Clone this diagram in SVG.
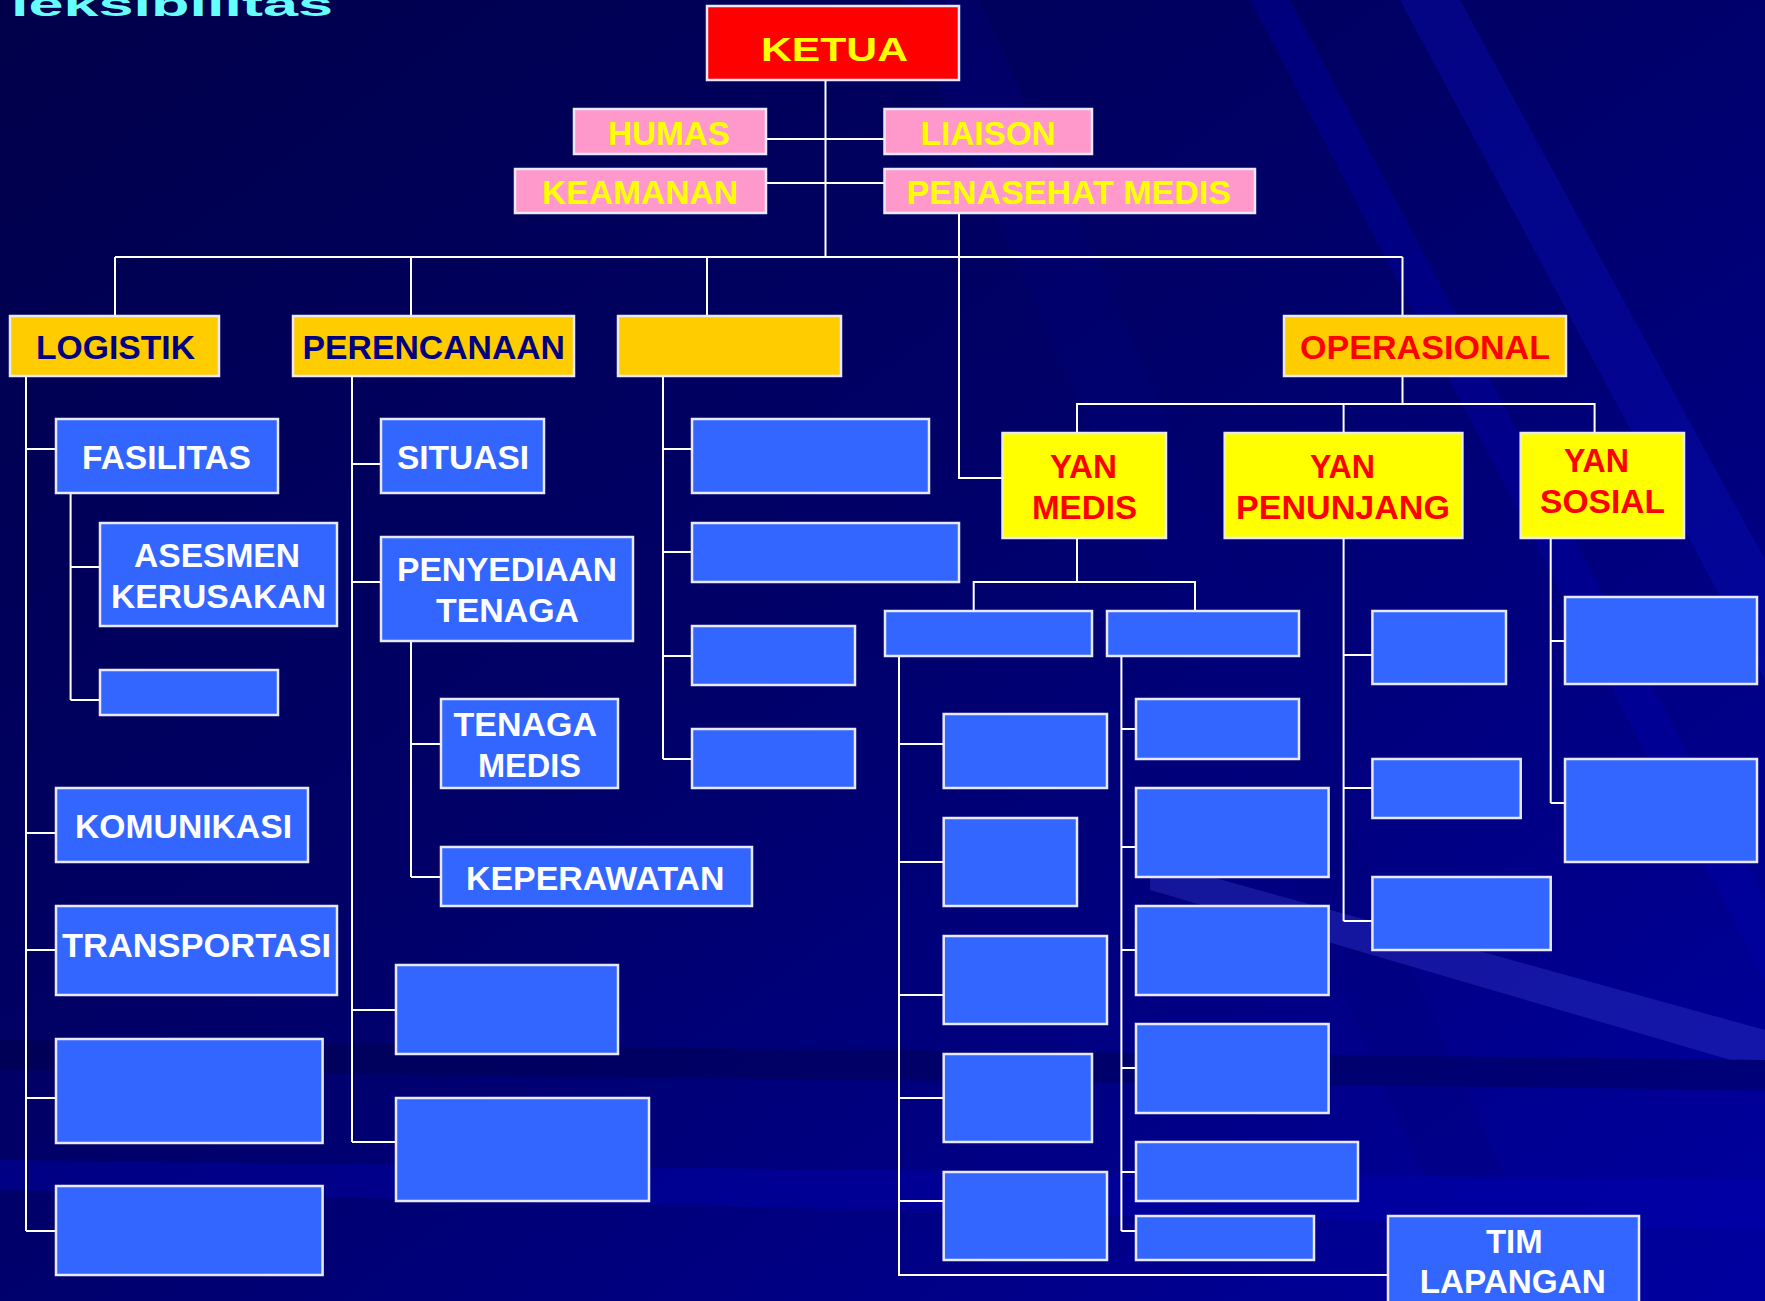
<svg xmlns="http://www.w3.org/2000/svg" width="1765" height="1301" viewBox="0 0 1765 1301">
<defs>
<linearGradient id="bg" x1="0" y1="0" x2="1" y2="1">
<stop offset="0" stop-color="#00004a"/>
<stop offset="0.45" stop-color="#000068"/>
<stop offset="1" stop-color="#0000a0"/>
</linearGradient>
<style>
.ln{fill:none;stroke:#ffffff;stroke-width:2}
.bx{stroke:#e8e8ff;stroke-width:2.5}
.blue{fill:#3366ff}
.gold{fill:#ffcc00}
.yel{fill:#ffff00}
.pink{fill:#ff99cc}
.red{fill:#ff0000}
text{font-family:"Liberation Sans",Arial,sans-serif;font-weight:bold;font-size:34px}
.tw{fill:#ffffff}
.ty{fill:#ffff00}
.tn{fill:#000080}
.tr{fill:#ff0000}
</style>
</defs>
<rect x="0" y="0" width="1765" height="1301" fill="url(#bg)"/>
<g opacity="0.35">
<polygon points="900,0 980,0 1560,1301 1480,1301" fill="#00007a"/>
<polygon points="1250,0 1290,0 1765,900 1765,980" fill="#0000b0"/>
<polygon points="1400,0 1460,0 1765,560 1765,680" fill="#0a10c0"/>
<polygon points="1150,860 1765,1030 1765,1070 1150,890" fill="#3a40d0"/>
<polygon points="0,1160 1765,1180 1765,1230 0,1190" fill="#0000b8"/>
<polygon points="0,1040 1765,1060 1765,1090 0,1070" fill="#000040"/>
</g>
<text x="11" y="16" font-size="62" fill="#66ffff" textLength="322" lengthAdjust="spacingAndGlyphs">leksibilitas</text>
<g id="connectors">
<path class="ln" d="M825.5 80V257M766 139H884.5M766 183H884.5M115 257H1402.5M115 257V316M411 257V316M707 257V316M1402.5 257V316"/>
<path class="ln" d="M959 213V478H1002.5"/>
<path class="ln" d="M26 376V1231M26 449H56M26 833H56M26 950H56M26 1098H56M26 1231H56"/>
<path class="ln" d="M70.6 493V700M70.6 567H100M70.6 700H100"/>
<path class="ln" d="M352 376V1142M352 464H381M352 582H381M352 1010H396M352 1142H396"/>
<path class="ln" d="M411 641V877M411 744H441M411 877H441"/>
<path class="ln" d="M663 376V759M663 449H692M663 552H692M663 656H692M663 759H692"/>
<path class="ln" d="M1402.5 376V404M1077 433V404H1594.6V433M1343.6 404V433"/>
<path class="ln" d="M1077 538V582M973.7 611V582H1195V611"/>
<path class="ln" d="M899 656V1275H1388M899 744H943.7M899 862H943.7M899 995H943.7M899 1098H943.7M899 1201H943.7"/>
<path class="ln" d="M1121.4 656V1231M1121.4 729H1136M1121.4 847H1136M1121.4 950H1136M1121.4 1068H1136M1121.4 1172H1136M1121.4 1231H1136"/>
<path class="ln" d="M1343.6 538V921M1343.6 655H1372.4M1343.6 788H1372.4M1343.6 921H1372.4"/>
<path class="ln" d="M1550.7 538V803M1550.7 641H1565M1550.7 803H1565"/>
</g>
<g id="ketua"><rect class="bx red" x="707" y="6" width="252" height="74"/><text class="ty" x="761" y="61" font-size="46" textLength="147" lengthAdjust="spacingAndGlyphs">KETUA</text></g>
<g id="humas"><rect class="bx pink" x="574" y="109" width="192" height="45"/><text class="ty" x="608" y="145" textLength="122" lengthAdjust="spacingAndGlyphs">HUMAS</text></g>
<g id="keamanan"><rect class="bx pink" x="515" y="169" width="251" height="44"/><text class="ty" x="542" y="204" textLength="196" lengthAdjust="spacingAndGlyphs">KEAMANAN</text></g>
<g id="liaison"><rect class="bx pink" x="884.5" y="109" width="207.5" height="45"/><text class="ty" x="920.6" y="145" textLength="135" lengthAdjust="spacingAndGlyphs">LIAISON</text></g>
<g id="penasehat-medis"><rect class="bx pink" x="884.5" y="169" width="370.5" height="44"/><text class="ty" x="906.5" y="204" textLength="324.5" lengthAdjust="spacingAndGlyphs">PENASEHAT MEDIS</text></g>
<g id="logistik"><rect class="bx gold" x="10" y="316" width="209" height="60"/><text class="tn" x="36" y="359" textLength="159" lengthAdjust="spacingAndGlyphs">LOGISTIK</text></g>
<g id="perencanaan"><rect class="bx gold" x="293" y="316" width="281" height="60"/><text class="tn" x="302.5" y="359" textLength="262.5" lengthAdjust="spacingAndGlyphs">PERENCANAAN</text></g>
<g id="blank-gold"><rect class="bx gold" x="618" y="316" width="223" height="60"/></g>
<g id="operasional"><rect class="bx gold" x="1284" y="316" width="282" height="60"/><text class="tr" x="1300" y="359" textLength="250" lengthAdjust="spacingAndGlyphs">OPERASIONAL</text></g>
<g id="fasilitas"><rect class="bx blue" x="56" y="419" width="222" height="74"/><text class="tw" x="82" y="469" textLength="169" lengthAdjust="spacingAndGlyphs">FASILITAS</text></g>
<g id="asesmen-kerusakan"><rect class="bx blue" x="100" y="523" width="237" height="103"/><text class="tw" x="134" y="567" textLength="166" lengthAdjust="spacingAndGlyphs">ASESMEN</text><text class="tw" x="111" y="608" textLength="215" lengthAdjust="spacingAndGlyphs">KERUSAKAN</text></g>
<g id="log-blank1"><rect class="bx blue" x="100" y="670" width="178" height="45"/></g>
<g id="komunikasi"><rect class="bx blue" x="56" y="788" width="252" height="74"/><text class="tw" x="75" y="838" textLength="217" lengthAdjust="spacingAndGlyphs">KOMUNIKASI</text></g>
<g id="transportasi"><rect class="bx blue" x="56" y="906" width="281" height="89"/><text class="tw" x="62" y="957" textLength="269" lengthAdjust="spacingAndGlyphs">TRANSPORTASI</text></g>
<g id="log-blank2"><rect class="bx blue" x="56" y="1039" width="266.6" height="104"/></g>
<g id="log-blank3"><rect class="bx blue" x="56" y="1186" width="266.6" height="89"/></g>
<g id="situasi"><rect class="bx blue" x="381" y="419" width="163" height="74"/><text class="tw" x="397" y="469" textLength="132" lengthAdjust="spacingAndGlyphs">SITUASI</text></g>
<g id="penyediaan-tenaga"><rect class="bx blue" x="381" y="537" width="252" height="104"/><text class="tw" x="397" y="581" textLength="220" lengthAdjust="spacingAndGlyphs">PENYEDIAAN</text><text class="tw" x="436" y="622" textLength="143" lengthAdjust="spacingAndGlyphs">TENAGA</text></g>
<g id="tenaga-medis"><rect class="bx blue" x="441" y="699" width="177" height="89"/><text class="tw" x="453.5" y="736" textLength="143.5" lengthAdjust="spacingAndGlyphs">TENAGA</text><text class="tw" x="478" y="777" textLength="103" lengthAdjust="spacingAndGlyphs">MEDIS</text></g>
<g id="keperawatan"><rect class="bx blue" x="441" y="847" width="311" height="59"/><text class="tw" x="466" y="890" textLength="258.5" lengthAdjust="spacingAndGlyphs">KEPERAWATAN</text></g>
<g id="per-blank1"><rect class="bx blue" x="396" y="965" width="222" height="89"/></g>
<g id="per-blank2"><rect class="bx blue" x="396" y="1098" width="253" height="103"/></g>
<g id="c3-blank1"><rect class="bx blue" x="692" y="419" width="237" height="74"/></g>
<g id="c3-blank2"><rect class="bx blue" x="692" y="523" width="267" height="59"/></g>
<g id="c3-blank3"><rect class="bx blue" x="692" y="626" width="163" height="59"/></g>
<g id="c3-blank4"><rect class="bx blue" x="692" y="729" width="163" height="59"/></g>
<g id="yan-medis"><rect class="bx yel" x="1002.5" y="433" width="163.5" height="105"/><text class="tr" x="1050" y="478" textLength="67" lengthAdjust="spacingAndGlyphs">YAN</text><text class="tr" x="1032" y="519" textLength="105" lengthAdjust="spacingAndGlyphs">MEDIS</text></g>
<g id="yan-penunjang"><rect class="bx yel" x="1224.7" y="433" width="237.7" height="105"/><text class="tr" x="1310" y="478" textLength="65" lengthAdjust="spacingAndGlyphs">YAN</text><text class="tr" x="1236" y="519" textLength="214" lengthAdjust="spacingAndGlyphs">PENUNJANG</text></g>
<g id="yan-sosial"><rect class="bx yel" x="1520.7" y="433" width="163.3" height="105"/><text class="tr" x="1564" y="472" textLength="65" lengthAdjust="spacingAndGlyphs">YAN</text><text class="tr" x="1540" y="513" textLength="125" lengthAdjust="spacingAndGlyphs">SOSIAL</text></g>
<g id="med-m1"><rect class="bx blue" x="885" y="611" width="207" height="45"/></g>
<g id="med-m2"><rect class="bx blue" x="1107" y="611" width="192" height="45"/></g>
<g id="med-l1"><rect class="bx blue" x="943.7" y="714" width="163.3" height="74"/></g>
<g id="med-l2"><rect class="bx blue" x="943.7" y="818" width="133.3" height="88"/></g>
<g id="med-l3"><rect class="bx blue" x="943.7" y="936" width="163.3" height="88"/></g>
<g id="med-l4"><rect class="bx blue" x="943.7" y="1054" width="148.3" height="88"/></g>
<g id="med-l5"><rect class="bx blue" x="943.7" y="1172" width="163.3" height="88"/></g>
<g id="med-r1"><rect class="bx blue" x="1136" y="699" width="163" height="60"/></g>
<g id="med-r2"><rect class="bx blue" x="1136" y="788" width="192.6" height="89"/></g>
<g id="med-r3"><rect class="bx blue" x="1136" y="906" width="192.6" height="89"/></g>
<g id="med-r4"><rect class="bx blue" x="1136" y="1024" width="192.6" height="89"/></g>
<g id="med-r5"><rect class="bx blue" x="1136" y="1142" width="222" height="59"/></g>
<g id="med-r6"><rect class="bx blue" x="1136" y="1216" width="178" height="44"/></g>
<g id="pen-p1"><rect class="bx blue" x="1372.4" y="611" width="133.6" height="73"/></g>
<g id="pen-p2"><rect class="bx blue" x="1372.4" y="759" width="148.3" height="59"/></g>
<g id="pen-p3"><rect class="bx blue" x="1372.4" y="877" width="178.3" height="73"/></g>
<g id="sos-s1"><rect class="bx blue" x="1565" y="597" width="192" height="87"/></g>
<g id="sos-s2"><rect class="bx blue" x="1565" y="759" width="192" height="103"/></g>
<g id="tim-lapangan"><rect class="bx blue" x="1388" y="1216" width="251" height="100"/><text class="tw" x="1486" y="1253" textLength="56.6" lengthAdjust="spacingAndGlyphs">TIM</text><text class="tw" x="1419.7" y="1293" textLength="186" lengthAdjust="spacingAndGlyphs">LAPANGAN</text></g>
</svg>
